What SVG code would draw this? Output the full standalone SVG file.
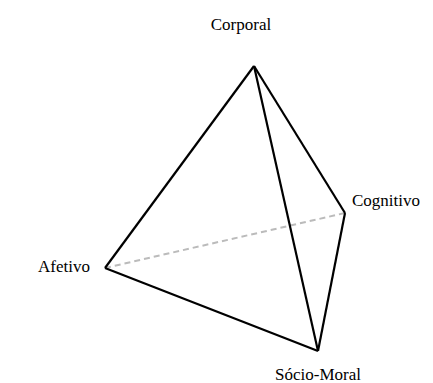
<svg xmlns="http://www.w3.org/2000/svg" width="433" height="383" viewBox="0 0 433 383">
<style>
.lbl{font-family:"Liberation Serif","Times New Roman",serif;font-size:17px;fill:#000}
.e{stroke:#000;stroke-width:2.2;fill:none;stroke-linejoin:round}
.d{stroke:#bbb;stroke-width:2;stroke-dasharray:6,4;fill:none}
</style>
<rect width="433" height="383" fill="#fff"/>
<g id="connectors">
<line class="d" x1="105" y1="268" x2="345" y2="213"/>
<line class="e" x1="254" y1="66" x2="105" y2="268"/>
<line class="e" x1="254" y1="66" x2="345" y2="213"/>
<line class="e" x1="254" y1="66" x2="318" y2="351"/>
<line class="e" x1="345" y1="213" x2="318" y2="351"/>
<line class="e" x1="105" y1="268" x2="318" y2="351"/>
</g>
<g id="corporal"><text class="lbl" x="241" y="30" text-anchor="middle">Corporal</text></g>
<g id="cognitivo"><text class="lbl" x="352" y="206">Cognitivo</text></g>
<g id="afetivo"><text class="lbl" x="90" y="272" text-anchor="end">Afetivo</text></g>
<g id="socio-moral"><text class="lbl" x="318" y="380" text-anchor="middle">Sócio-Moral</text></g>
</svg>
